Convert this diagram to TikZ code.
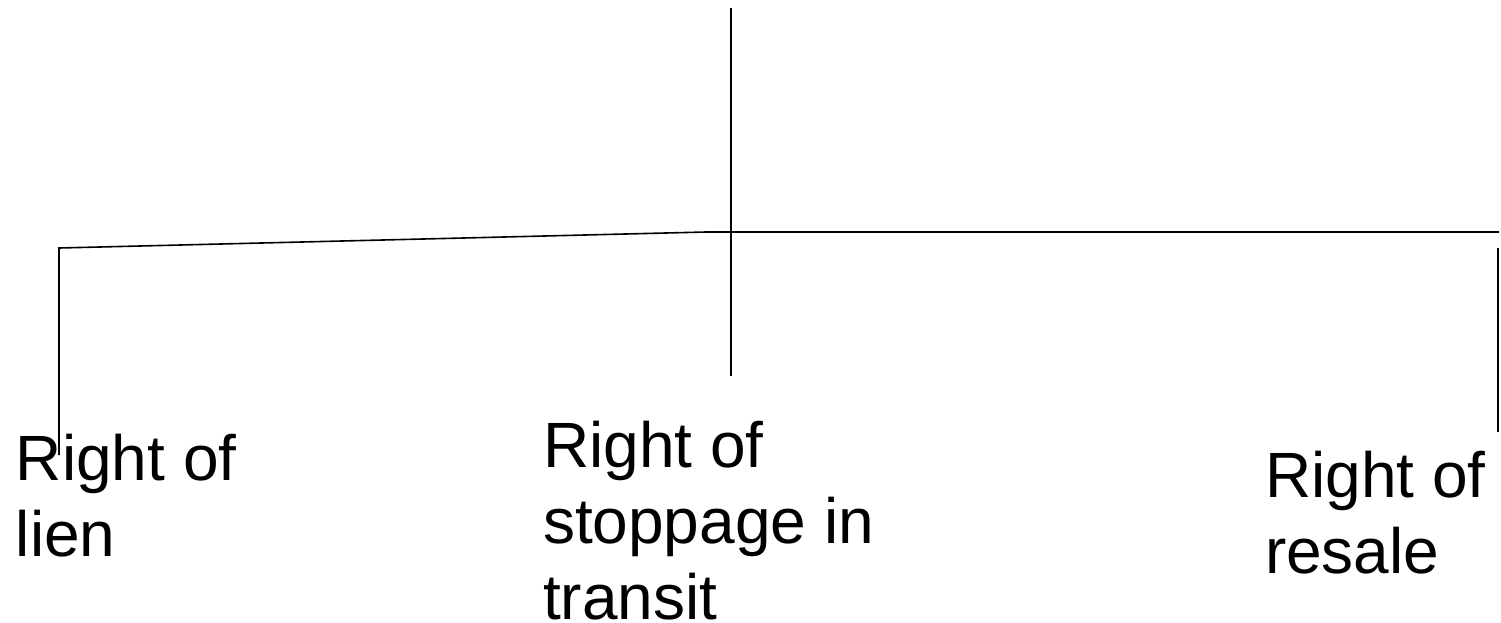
\documentclass[tikz,border=0pt]{standalone}
\usepackage{fontspec}
\setmainfont{Liberation Sans}
\tikzset{
  px/.style={x=1pt,y=-1pt},
  conn/.style={line width=1.6pt, draw=black},
  lab/.style={inner sep=0pt, outer sep=0pt, anchor=north west, align=left,
    font=\fontsize{64}{76}\selectfont}
}
\begin{document}
\begin{tikzpicture}[px]
\useasboundingbox (0,0) rectangle (1501,622);
% labels
\node[lab] (lien) at (16,434) {Right of\\lien};
\node[lab] (stop) at (543,421) {Right of\\stoppage in\\transit};
\node[lab] (resale) at (1265,451) {Right of\\resale};
% connector points
\coordinate (top) at (731,8);
\coordinate (mid) at (731,376);
\coordinate (lt) at (59,248);
\coordinate (lb) at (59,455);
\coordinate (jn) at (706,232);
\coordinate (rt) at (1499,232);
\coordinate (rvt) at (1498,248);
\coordinate (rvb) at (1498,432);
% connectors
\draw[conn] (top) -- (mid);
\draw[conn] (lb) -- (lt) -- (jn) -- (rt);
\draw[conn] (rvt) -- (rvb);
\end{tikzpicture}
\end{document}
